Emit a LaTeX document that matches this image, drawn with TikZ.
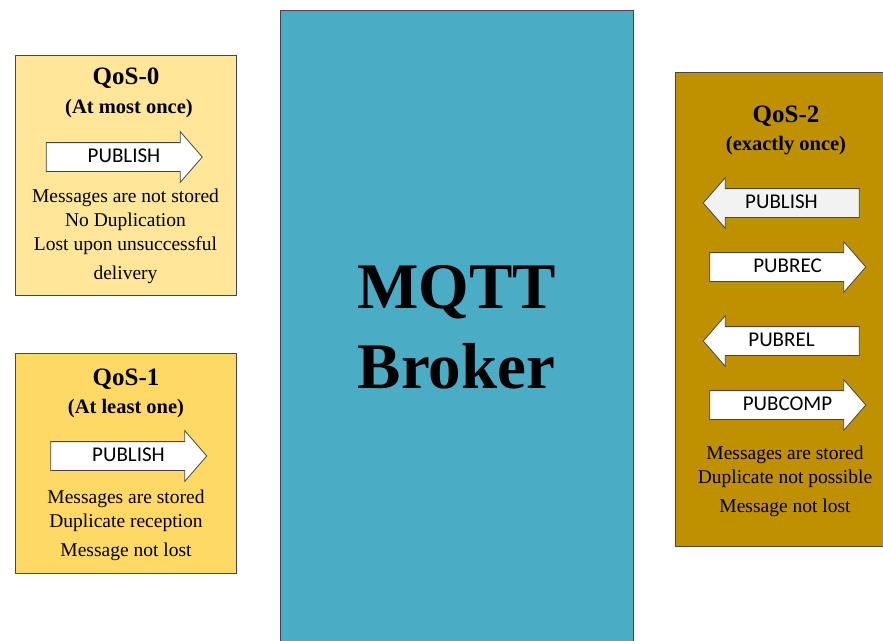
\documentclass[tikz,border=0pt]{standalone}
\usepackage{fontspec}
\setmainfont{Liberation Serif}
\newfontfamily\labelfont{Carlito}
\usetikzlibrary{shapes.arrows,positioning}
\definecolor{qosLight}{RGB}{255,230,153}
\definecolor{qosMid}{RGB}{255,217,102}
\definecolor{qosDark}{RGB}{191,144,0}
\definecolor{brokerBlue}{RGB}{75,172,198}
\definecolor{edgeGray}{RGB}{70,70,70}
\definecolor{msgGray}{RGB}{242,242,242}

\begin{document}
\begin{tikzpicture}[
    x=1pt, y=-1pt,
    qbox/.style={rectangle, draw=edgeGray, line width=0.8pt, anchor=north west, inner sep=0pt},
    title/.style={font=\fontsize{25}{29}\selectfont\bfseries},
    subtitle/.style={font=\fontsize{20.5}{24}\selectfont\bfseries},
    body/.style={font=\fontsize{19.5}{24}\selectfont, align=center},
    msg/.style={single arrow, draw=edgeGray, line width=0.8pt, fill=white,
        font=\labelfont\fontsize{21}{24}\selectfont, text height=14pt, text depth=4pt,
        inner ysep=5pt, inner xsep=2pt, single arrow head extend=11pt,
        single arrow tip angle=98, minimum height=156pt},
    back/.style={shape border rotate=180}
]
    \useasboundingbox (0,0) rectangle (883,640);
    \clip (0,0) rectangle (883,640);
    \fill[white] (0,0) rectangle (883,640);

    % boxes
    \node[qbox, fill=qosLight, minimum width=221, minimum height=240] (qos0) at (15,55) {};
    \node[qbox, fill=qosMid, minimum width=221, minimum height=220] (qos1) at (15,353) {};
    \node[qbox, fill=brokerBlue, minimum width=353, minimum height=640] (broker) at (280,10) {};
    \node[qbox, fill=qosDark, minimum width=220, minimum height=474] (qos2) at (675,72) {};

    % broker
    \node[font=\fontsize{65}{80}\selectfont\bfseries, align=center] (brokerText) at (456.5,327) {MQTT\\Broker};

    % QoS-0
    \node[title] (title0) at (126,78) {QoS-0};
    \node[subtitle] (sub0) at (129,109) {(At most once)};
    \node[msg] (pub0) at (118,157) {\hspace*{12pt}PUBLISH};
    \node[body] (text0) at (125.5,236) {Messages are not stored\\No Duplication\\Lost upon unsuccessful\\[5pt]delivery};

    % QoS-1
    \node[title] (title1) at (126,379) {QoS-1};
    \node[subtitle] (sub1) at (126,409) {(At least one)};
    \node[msg] (pub1) at (122.5,456) {\hspace*{12pt}PUBLISH};
    \node[body] (text1) at (126,525) {Messages are stored\\Duplicate reception\\[5pt]Message not lost};

    % QoS-2
    \node[title] (title2) at (786,116) {QoS-2};
    \node[subtitle] (sub2) at (786,146) {(exactly once)};
    \node[msg, back, fill=msgGray] (pub2) at (787.5,203) {PUBLISH\hspace*{12pt}};
    \node[msg] (rec2) at (781.5,267) {\hspace*{12pt}PUBREC};
    \node[msg, back] (rel2) at (787.5,341) {PUBREL\hspace*{12pt}};
    \node[msg] (comp2) at (781.5,405) {\hspace*{12pt}PUBCOMP};
    \node[body] (text2) at (785,481.5) {Messages are stored\\Duplicate not possible\\[5pt]Message not lost};
\end{tikzpicture}
\end{document}
